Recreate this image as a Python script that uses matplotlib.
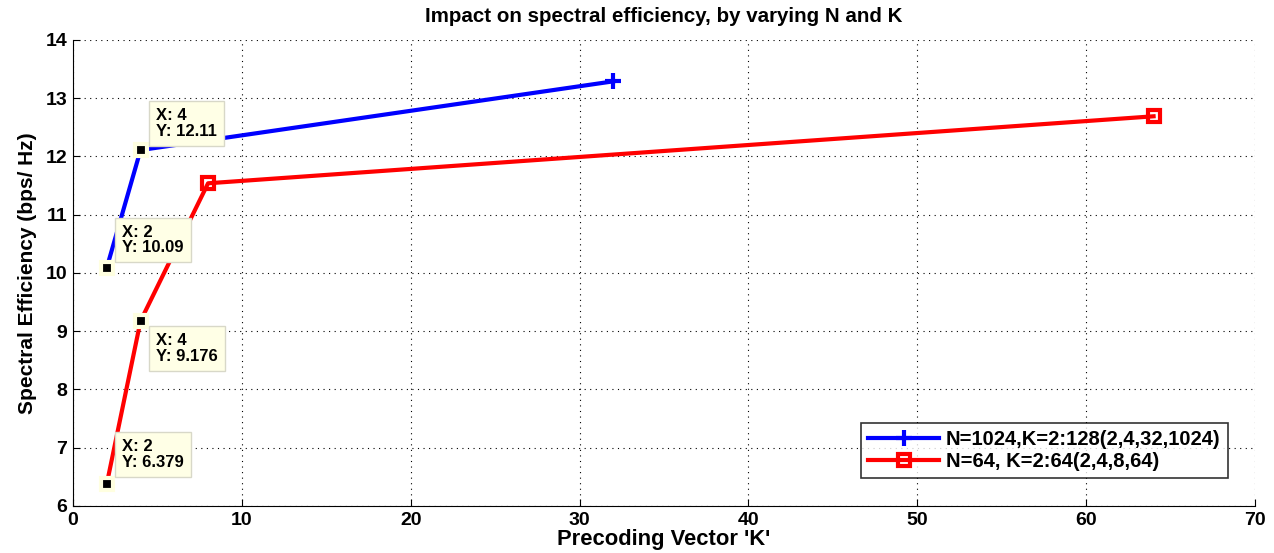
import matplotlib
matplotlib.use("Agg")
import matplotlib.pyplot as plt

plt.rcParams['font.family'] = ['Liberation Sans', 'DejaVu Sans']
plt.rcParams['font.weight'] = 'bold'

k_n1024 = [2, 4, 32]
se_n1024 = [10.09, 12.11, 13.29]
k_n64 = [2, 4, 8, 64]
se_n64 = [6.379, 9.176, 11.54, 12.69]

label_n1024 = "N=1024,K=2:128(2,4,32,1024)"
label_n64 = "N=64, K=2:64(2,4,8,64)"

# data tips: point and the text offset in points
tips_x = [4, 2, 4, 2]
tips_y = [12.11, 10.09, 9.176, 6.379]
tips_offset = [(11, 8), (11, 9), (11, -9), (11, 10)]

fig = plt.figure(figsize=(12.74, 5.53), dpi=100)
ax = fig.add_axes([0.0573, 0.085, 0.9277, 0.8427])

ax.plot(k_n1024, se_n1024, color='#0000ff', lw=3, marker='+', ms=11, mew=3,
        markevery=[2], label=label_n1024)
ax.plot(k_n64, se_n64, color='#ff0000', lw=3, marker='s', ms=8.5, mew=3,
        mfc='none', markevery=[2, 3], label=label_n64)

for x, y, off in zip(tips_x, tips_y, tips_offset):
    ax.plot([x], [y], marker='s', ms=9, color='black', mec='#ffffe0', mew=3, zorder=5)
    va = 'bottom' if off[1] > 0 else 'top'
    ax.annotate(f"X: {x}\nY: {y:.4g}", xy=(x, y), xytext=off, textcoords='offset points',
                ha='left', va=va, fontsize=12, fontweight='bold', linespacing=1.05,
                bbox=dict(boxstyle='square,pad=0.42', fc='#ffffe6', ec='#d8d8c8', lw=1),
                zorder=6)

ax.set_xlim(0, 70)
ax.set_ylim(6, 14)
ax.set_xticks(range(0, 71, 10))
ax.set_yticks(range(6, 15))
ax.grid(True, linestyle=(0, (1, 4)), color='black', lw=0.8)
ax.spines['top'].set_visible(False)
ax.spines['right'].set_visible(False)
ax.tick_params(direction='in', labelsize=14, length=5, pad=4)
for lbl in ax.get_xticklabels() + ax.get_yticklabels():
    lbl.set_fontweight('bold')

ax.set_title("Impact on spectral efficiency, by varying N and K", fontsize=14.8,
             fontweight='bold', pad=13)
ax.set_xlabel("Precoding Vector 'K'", fontsize=15.8, fontweight='bold', labelpad=0)
ax.set_ylabel("Spectral Efficiency (bps/ Hz)", fontsize=15, fontweight='bold', labelpad=6)

leg = ax.legend(loc='lower right', bbox_to_anchor=(0.977, 0.06), fontsize=14.5,
                frameon=True, fancybox=False, edgecolor='black', handlelength=3.5,
                handletextpad=0.35, borderpad=0.35, borderaxespad=0,
                labelspacing=0.15)
leg.get_frame().set_linewidth(1.2)

fig.savefig("out.png", dpi=100, facecolor='white')
